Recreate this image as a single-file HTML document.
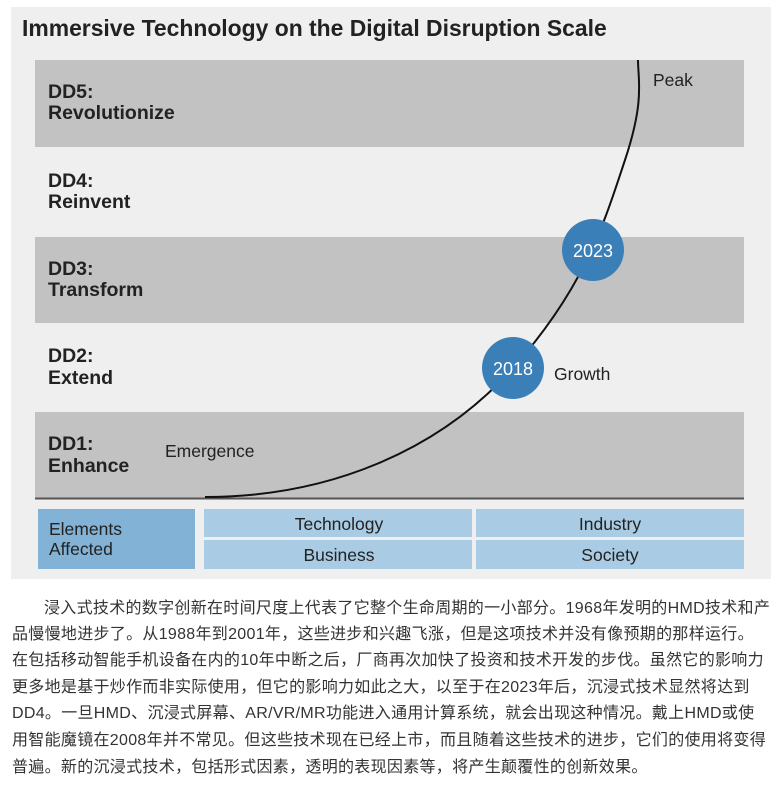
<!DOCTYPE html>
<html><head><meta charset="utf-8"><style>
body{margin:0;width:781px;height:800px;background:#fff;position:relative;overflow:hidden}
.t{position:absolute;left:12px;width:770px;font-family:"Liberation Sans","Noto Sans CJK SC",sans-serif;font-size:16px;letter-spacing:0.3px;color:#333;white-space:nowrap}
</style></head><body>
<svg width="781" height="585" style="position:absolute;left:0;top:0" font-family="Liberation Sans, sans-serif">
<rect x="11" y="7" width="760" height="572" fill="#efeff0"/>
<text x="22" y="36" font-size="22.9" font-weight="bold" fill="#222">Immersive Technology on the Digital Disruption Scale</text>
<rect x="35" y="60" width="709" height="87" fill="#c2c2c2"/>
<rect x="35" y="237" width="709" height="86" fill="#c2c2c2"/>
<rect x="35" y="412" width="709" height="86" fill="#c2c2c2"/>
<line x1="35" y1="498.5" x2="744" y2="498.5" stroke="#555" stroke-width="2"/>
<g font-size="19.5" font-weight="bold" fill="#222">
<text x="48" y="98">DD5:</text><text x="48" y="119">Revolutionize</text>
<text x="48" y="187">DD4:</text><text x="48" y="208">Reinvent</text>
<text x="48" y="275">DD3:</text><text x="48" y="296">Transform</text>
<text x="48" y="362">DD2:</text><text x="48" y="384">Extend</text>
<text x="48" y="450">DD1:</text><text x="48" y="472">Enhance</text>
</g>
<path d="M205,497 C330,497 440,450 513,368 S605,220 625,160 S638,80 638,60" fill="none" stroke="#111" stroke-width="2"/>
<g font-size="17.5" fill="#222">
<text x="653" y="86">Peak</text>
<text x="554" y="380">Growth</text>
<text x="165" y="457">Emergence</text>
</g>
<circle cx="593" cy="250" r="31" fill="#3b7fb8"/>
<circle cx="513" cy="368" r="31" fill="#3b7fb8"/>
<g font-size="18" fill="#fff" text-anchor="middle">
<text x="593" y="257">2023</text><text x="513" y="375">2018</text>
</g>
<rect x="38" y="509" width="157" height="60" fill="#82b2d6"/>
<text x="49" y="535" font-size="17.5" fill="#222">Elements</text>
<text x="49" y="555" font-size="17.5" fill="#222">Affected</text>
<rect x="204" y="509" width="268" height="28" fill="#a9cbe3"/>
<rect x="476" y="509" width="268" height="28" fill="#a9cbe3"/>
<rect x="204" y="540" width="268" height="29" fill="#a9cbe3"/>
<rect x="476" y="540" width="268" height="29" fill="#a9cbe3"/>
<g font-size="17.5" fill="#222" text-anchor="middle">
<text x="339" y="530">Technology</text><text x="610" y="530">Industry</text>
<text x="339" y="561">Business</text><text x="610" y="561">Society</text>
</g>
</svg>
<div class="t" style="top:594px;left:44px">浸入式技术的数字创新在时间尺度上代表了它整个生命周期的一小部分。1968年发明的HMD技术和产</div>
<div class="t" style="top:620px">品慢慢地进步了。从1988年到2001年，这些进步和兴趣飞涨，但是这项技术并没有像预期的那样运行。</div>
<div class="t" style="top:646px">在包括移动智能手机设备在内的10年中断之后，厂商再次加快了投资和技术开发的步伐。虽然它的影响力</div>
<div class="t" style="top:673px">更多地是基于炒作而非实际使用，但它的影响力如此之大，以至于在2023年后，沉浸式技术显然将达到</div>
<div class="t" style="top:699px">DD4。一旦HMD、沉浸式屏幕、AR/VR/MR功能进入通用计算系统，就会出现这种情况。戴上HMD或使</div>
<div class="t" style="top:726px">用智能魔镜在2008年并不常见。但这些技术现在已经上市，而且随着这些技术的进步，它们的使用将变得</div>
<div class="t" style="top:753px">普遍。新的沉浸式技术，包括形式因素，透明的表现因素等，将产生颠覆性的创新效果。</div>
</body></html>
